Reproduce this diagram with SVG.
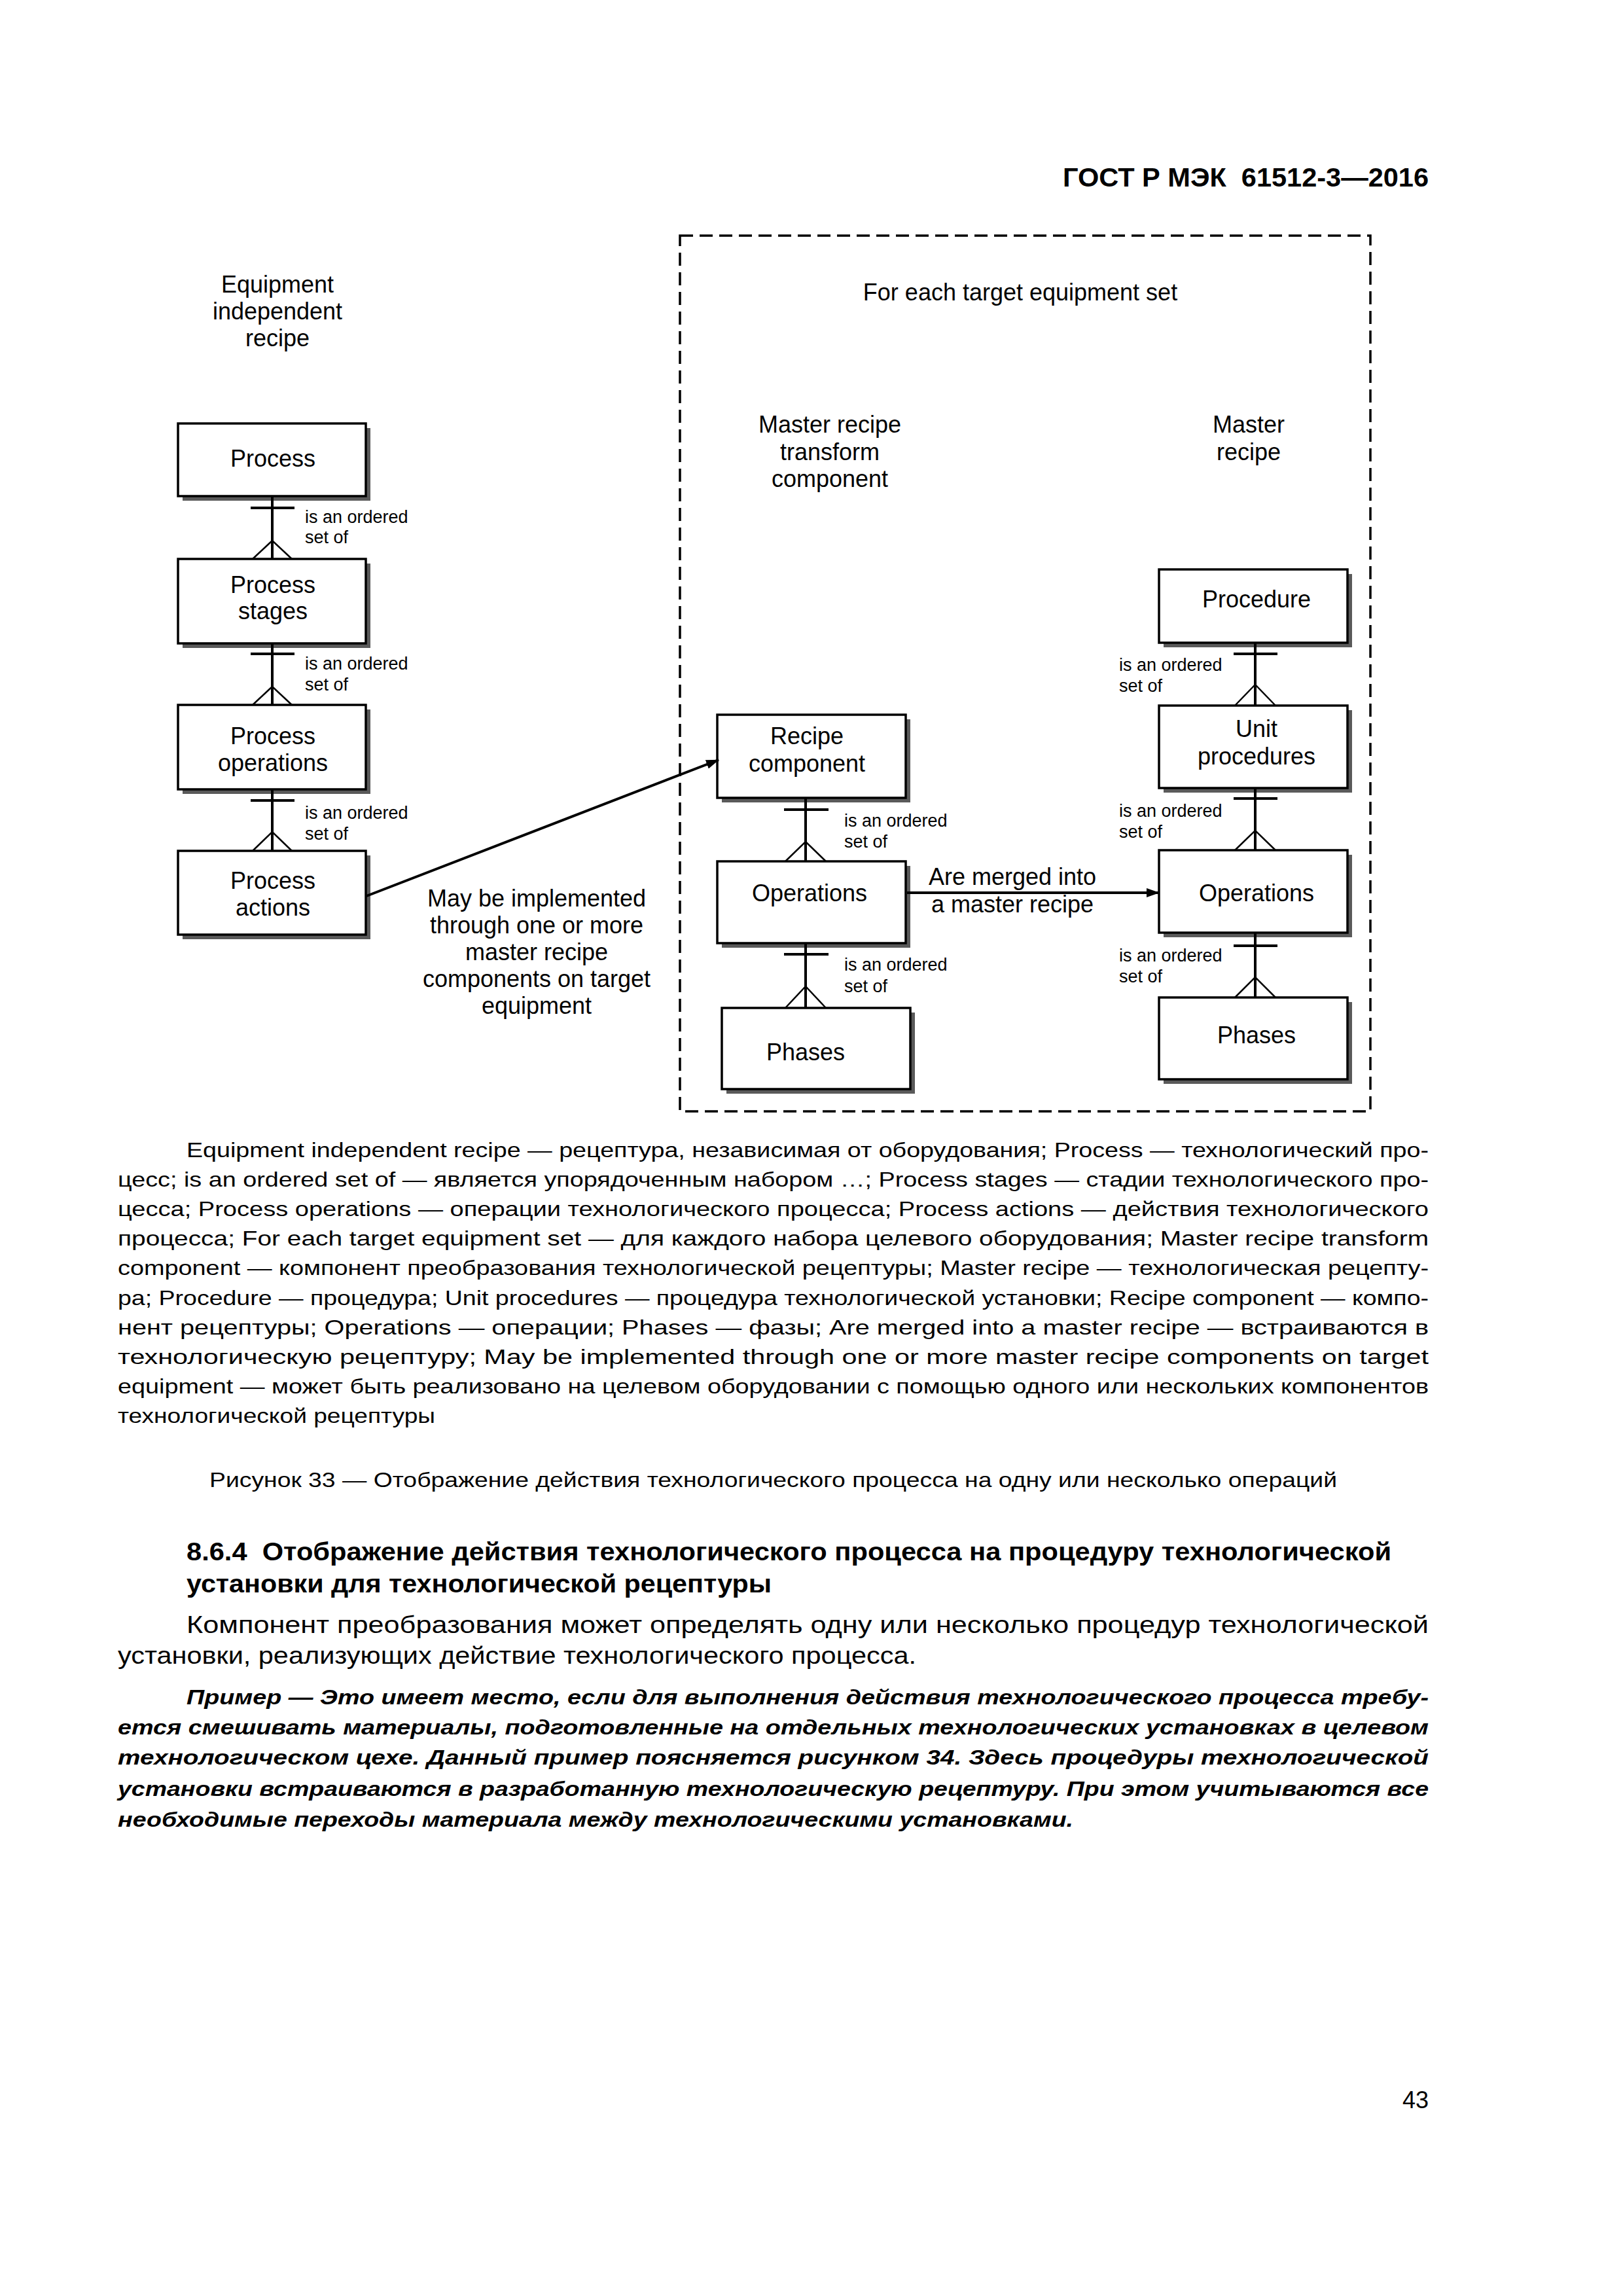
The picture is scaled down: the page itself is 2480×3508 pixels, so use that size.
<svg xmlns="http://www.w3.org/2000/svg" width="2480" height="3508" viewBox="0 0 2480 3508">
<style>
.bg{fill:#fff}
.box{fill:#fff;stroke:#000;stroke-width:3.5}
.sh{fill:#5a5a5a}
.t{font-family:"Liberation Sans",Arial,sans-serif;font-size:36px;fill:#000;text-anchor:middle}
.lbl{font-family:"Liberation Sans",Arial,sans-serif;font-size:27px;fill:#000}
.rel{stroke:#000;stroke-width:4;fill:none}
.crow{stroke:#000;stroke-width:2.5;fill:none}
.arr{stroke:#000;stroke-width:4;fill:none}
.dash{fill:none;stroke:#000;stroke-width:3.5;stroke-dasharray:20 10}
.nar{font-family:"Liberation Sans Narrow","Liberation Sans",Arial,sans-serif;fill:#000}
.p{font-size:32px}
.body{font-size:36px}
.hd{font-size:38px;font-weight:bold}
.ex{font-size:32px;font-weight:bold;font-style:italic}
.gost{font-size:40px;font-weight:bold}
.pg{font-family:"Liberation Sans",Arial,sans-serif;font-size:36px;fill:#000;text-anchor:end}
</style>
<defs>
<marker id="ah" markerWidth="20" markerHeight="14" refX="19" refY="7" orient="auto" markerUnits="userSpaceOnUse">
<path d="M0,0 L20,7 L0,14 Z" fill="#000"/>
</marker>
</defs>
<rect class="bg" x="0" y="0" width="2480" height="3508"/>

<text class="nar gost" x="1624" y="285" textLength="559" lengthAdjust="spacingAndGlyphs">ГОСТ Р МЭК&#160; 61512-3—2016</text>

<g id="frame">
<rect class="dash" x="1039" y="360" width="1055" height="1338"/>
<text class="t" x="1559" y="459">For each target equipment set</text>
</g>

<g id="titles">
<text class="t" x="424" y="447">Equipment</text>
<text class="t" x="424" y="488">independent</text>
<text class="t" x="424" y="529">recipe</text>
<text class="t" x="1268" y="661">Master recipe</text>
<text class="t" x="1268" y="703">transform</text>
<text class="t" x="1268" y="744">component</text>
<text class="t" x="1908" y="661">Master</text>
<text class="t" x="1908" y="703">recipe</text>
</g>

<g id="process">
<rect class="sh" x="279" y="654" width="287" height="111"/>
<rect class="box" x="272" y="647" width="287" height="111"/>
<text class="t" x="417" y="713">Process</text>
</g>
<g id="process-stages">
<rect class="sh" x="279" y="861" width="287" height="129"/>
<rect class="box" x="272" y="854" width="287" height="129"/>
<text class="t" x="417" y="906">Process</text>
<text class="t" x="417" y="946">stages</text>
</g>
<g id="process-operations">
<rect class="sh" x="279" y="1084" width="287" height="129"/>
<rect class="box" x="272" y="1077" width="287" height="129"/>
<text class="t" x="417" y="1137">Process</text>
<text class="t" x="417" y="1178">operations</text>
</g>
<g id="process-actions">
<rect class="sh" x="279" y="1307" width="287" height="128"/>
<rect class="box" x="272" y="1300" width="287" height="128"/>
<text class="t" x="417" y="1358">Process</text>
<text class="t" x="417" y="1399">actions</text>
</g>

<g id="recipe-component">
<rect class="sh" x="1103" y="1099" width="288" height="127"/>
<rect class="box" x="1096" y="1092" width="288" height="127"/>
<text class="t" x="1233" y="1137">Recipe</text>
<text class="t" x="1233" y="1179">component</text>
</g>
<g id="operations-left">
<rect class="sh" x="1103" y="1323" width="288" height="125"/>
<rect class="box" x="1096" y="1316" width="288" height="125"/>
<text class="t" x="1237" y="1377">Operations</text>
</g>
<g id="phases-left">
<rect class="sh" x="1110" y="1547" width="288" height="124"/>
<rect class="box" x="1103" y="1540" width="288" height="124"/>
<text class="t" x="1231" y="1620">Phases</text>
</g>

<g id="procedure">
<rect class="sh" x="1778" y="877" width="288" height="112"/>
<rect class="box" x="1771" y="870" width="288" height="112"/>
<text class="t" x="1920" y="928">Procedure</text>
</g>
<g id="unit-procedures">
<rect class="sh" x="1778" y="1085" width="288" height="126"/>
<rect class="box" x="1771" y="1078" width="288" height="126"/>
<text class="t" x="1920" y="1126">Unit</text>
<text class="t" x="1920" y="1168">procedures</text>
</g>
<g id="operations-right">
<rect class="sh" x="1778" y="1306" width="288" height="126"/>
<rect class="box" x="1771" y="1299" width="288" height="126"/>
<text class="t" x="1920" y="1377">Operations</text>
</g>
<g id="phases-right">
<rect class="sh" x="1778" y="1531" width="288" height="125"/>
<rect class="box" x="1771" y="1524" width="288" height="125"/>
<text class="t" x="1920" y="1594">Phases</text>
</g>

<g id="connectors">
<!-- left column -->
<path class="rel" d="M416,758 V854 M383,776 H450"/>
<path class="crow" d="M386,854 L416,826 L446,854"/>
<path class="rel" d="M416,983 V1077 M383,999 H450"/>
<path class="crow" d="M386,1077 L416,1049 L446,1077"/>
<path class="rel" d="M416,1206 V1300 M383,1223 H450"/>
<path class="crow" d="M386,1300 L416,1271 L446,1300"/>
<!-- middle column -->
<path class="rel" d="M1231,1219 V1316 M1198,1237 H1266"/>
<path class="crow" d="M1200,1316 L1231,1286 L1262,1316"/>
<path class="rel" d="M1231,1441 V1540 M1198,1458 H1266"/>
<path class="crow" d="M1200,1540 L1231,1507 L1262,1540"/>
<!-- right column -->
<path class="rel" d="M1918,982 V1078 M1885,999 H1952"/>
<path class="crow" d="M1887,1078 L1918,1046 L1949,1078"/>
<path class="rel" d="M1918,1204 V1299 M1885,1220 H1952"/>
<path class="crow" d="M1887,1299 L1918,1269 L1949,1299"/>
<path class="rel" d="M1918,1425 V1524 M1885,1445 H1952"/>
<path class="crow" d="M1887,1524 L1918,1493 L1949,1524"/>
<!-- arrows -->
<line class="arr" x1="560" y1="1369" x2="1098" y2="1161" marker-end="url(#ah)"/>
<line class="arr" x1="1386" y1="1364" x2="1771" y2="1364" marker-end="url(#ah)"/>
<!-- labels -->
<text class="lbl" x="466" y="799">is an ordered</text>
<text class="lbl" x="466" y="830">set of</text>
<text class="lbl" x="466" y="1023">is an ordered</text>
<text class="lbl" x="466" y="1055">set of</text>
<text class="lbl" x="466" y="1251">is an ordered</text>
<text class="lbl" x="466" y="1283">set of</text>
<text class="lbl" x="1290" y="1263">is an ordered</text>
<text class="lbl" x="1290" y="1295">set of</text>
<text class="lbl" x="1290" y="1483">is an ordered</text>
<text class="lbl" x="1290" y="1516">set of</text>
<text class="lbl" x="1710" y="1025">is an ordered</text>
<text class="lbl" x="1710" y="1057">set of</text>
<text class="lbl" x="1710" y="1248">is an ordered</text>
<text class="lbl" x="1710" y="1280">set of</text>
<text class="lbl" x="1710" y="1469">is an ordered</text>
<text class="lbl" x="1710" y="1501">set of</text>
<text class="t" x="1547" y="1352">Are merged into</text>
<text class="t" x="1547" y="1394">a master recipe</text>
<text class="t" x="820" y="1385">May be implemented</text>
<text class="t" x="820" y="1426">through one or more</text>
<text class="t" x="820" y="1467">master recipe</text>
<text class="t" x="820" y="1508">components on target</text>
<text class="t" x="820" y="1549">equipment</text>
</g>

<g id="legend">
<text class="nar p" x="285" y="1768" textLength="1898" lengthAdjust="spacingAndGlyphs">Equipment independent recipe — рецептура, независимая от оборудования; Process — технологический про-</text>
<text class="nar p" x="180" y="1813" textLength="2003" lengthAdjust="spacingAndGlyphs">цесс; is an ordered set of — является упорядоченным набором …; Process stages — стадии технологического про-</text>
<text class="nar p" x="180" y="1858" textLength="2003" lengthAdjust="spacingAndGlyphs">цесса; Process operations — операции технологического процесса; Process actions — действия технологического</text>
<text class="nar p" x="180" y="1903" textLength="2003" lengthAdjust="spacingAndGlyphs">процесса; For each target equipment set — для каждого набора целевого оборудования; Master recipe transform</text>
<text class="nar p" x="180" y="1948" textLength="2003" lengthAdjust="spacingAndGlyphs">component — компонент преобразования технологической рецептуры; Master recipe — технологическая рецепту-</text>
<text class="nar p" x="180" y="1994" textLength="2003" lengthAdjust="spacingAndGlyphs">ра; Procedure — процедура; Unit procedures — процедура технологической установки; Recipe component — компо-</text>
<text class="nar p" x="180" y="2039" textLength="2003" lengthAdjust="spacingAndGlyphs">нент рецептуры; Operations — операции; Phases — фазы; Are merged into a master recipe — встраиваются в</text>
<text class="nar p" x="180" y="2084" textLength="2003" lengthAdjust="spacingAndGlyphs">технологическую рецептуру; May be implemented through one or more master recipe components on target</text>
<text class="nar p" x="180" y="2129" textLength="2003" lengthAdjust="spacingAndGlyphs">equipment — может быть реализовано на целевом оборудовании с помощью одного или нескольких компонентов</text>
<text class="nar p" x="180" y="2174" textLength="485" lengthAdjust="spacingAndGlyphs">технологической рецептуры</text>
</g>

<text class="nar p" x="320" y="2272" textLength="1723" lengthAdjust="spacingAndGlyphs">Рисунок 33 — Отображение действия технологического процесса на одну или несколько операций</text>

<text class="nar hd" x="285" y="2384" textLength="1841" lengthAdjust="spacingAndGlyphs">8.6.4&#160; Отображение действия технологического процесса на процедуру технологической</text>
<text class="nar hd" x="285" y="2433" textLength="894" lengthAdjust="spacingAndGlyphs">установки для технологической рецептуры</text>

<text class="nar body" x="285" y="2495" textLength="1898" lengthAdjust="spacingAndGlyphs">Компонент преобразования может определять одну или несколько процедур технологической</text>
<text class="nar body" x="180" y="2542" textLength="1220" lengthAdjust="spacingAndGlyphs">установки, реализующих действие технологического процесса.</text>

<text class="nar ex" x="285" y="2604" textLength="1898" lengthAdjust="spacingAndGlyphs">Пример — Это имеет место, если для выполнения действия технологического процесса требу-</text>
<text class="nar ex" x="180" y="2650" textLength="2003" lengthAdjust="spacingAndGlyphs">ется смешивать материалы, подготовленные на отдельных технологических установках в целевом</text>
<text class="nar ex" x="180" y="2696" textLength="2003" lengthAdjust="spacingAndGlyphs">технологическом цехе. Данный пример поясняется рисунком 34. Здесь процедуры технологической</text>
<text class="nar ex" x="180" y="2744" textLength="2003" lengthAdjust="spacingAndGlyphs">установки встраиваются в разработанную технологическую рецептуру. При этом учитываются все</text>
<text class="nar ex" x="180" y="2791" textLength="1460" lengthAdjust="spacingAndGlyphs">необходимые переходы материала между технологическими установками.</text>

<text class="pg" x="2183" y="3221">43</text>
</svg>
